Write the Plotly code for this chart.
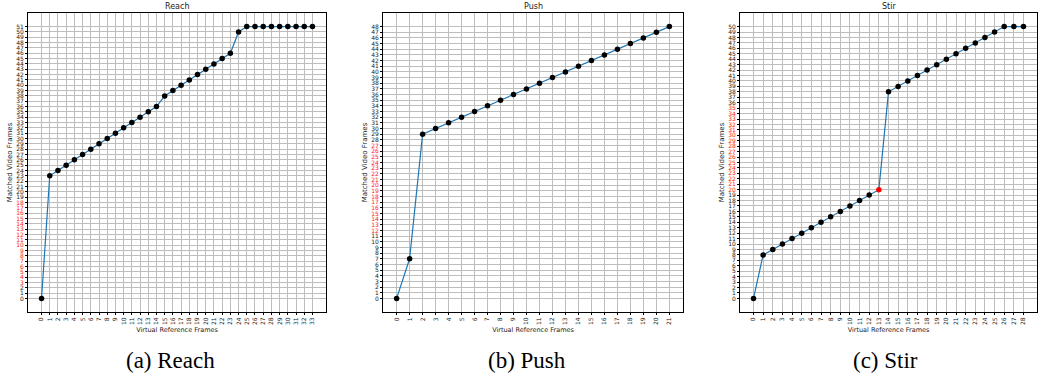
import plotly.graph_objects as go

# ---- data ----
reach_x = list(range(34))
reach_y = [0, 23, 24, 25, 26, 27, 28, 29, 30, 31, 32, 33, 34, 35, 36, 38, 39, 40, 41, 42,
           43, 44, 45, 46, 50, 51, 51, 51, 51, 51, 51, 51, 51, 51]
push_x = list(range(22))
push_y = [0, 7, 29, 30, 31, 32, 33, 34, 35, 36, 37, 38, 39, 40, 41, 42, 43, 44, 45, 46, 47, 48]
stir_x = list(range(29))
stir_y = [0, 8, 9, 10, 11, 12, 13, 14, 15, 16, 17, 18, 19, 20, 38, 39, 40, 41, 42, 43,
          44, 45, 46, 47, 48, 49, 50, 50, 50]

titles = ["Reach", "Push", "Stir"]
captions = ["(a) Reach", "(b) Push", "(c) Stir"]
red_label_ranges = [(3, 18), (12, 27), (20, 35)]   # y tick labels drawn in red
red_points = [[], [], [13]]                          # x indices of red markers

panels = [(reach_x, reach_y), (push_x, push_y), (stir_x, stir_y)]

W, H = 1039, 379
x_domains_px = [(28, 326), (383, 683), (740, 1037)]
caption_offsets = [-6, -6, -3]
y_top_px, y_bot_px = 13, 312

fig = go.Figure()
annotations = []

for i, ((xs, ys), title, cap, (r0, r1), rp) in enumerate(
        zip(panels, titles, captions, red_label_ranges, red_points)):
    n = i + 1
    xa = "x" if n == 1 else f"x{n}"
    ya = "y" if n == 1 else f"y{n}"
    mcol = ["red" if x in rp else "black" for x in xs]
    fig.add_trace(go.Scatter(
        x=xs, y=ys, mode="lines+markers",
        line=dict(color="#1f77b4", width=1.2),
        marker=dict(color=mcol, size=5.5, line=dict(width=0)),
        xaxis=xa, yaxis=ya, showlegend=False))

    xmax, ymax = max(xs), max(ys)
    xpad, ypad = 0.05 * xmax, 0.05 * ymax
    yticks = list(range(0, ymax + 1))
    ytext = [f'<span style="color:#ff2020">{v}</span>' if r0 <= v <= r1 else str(v)
             for v in yticks]

    d0, d1 = x_domains_px[i]
    xdom = [d0 / W, d1 / W]
    ydom = [1 - y_bot_px / H, 1 - y_top_px / H]

    axis_common = dict(showline=True, mirror=True, linecolor="black", linewidth=1,
                       showgrid=True, gridcolor="#bdbdbd", gridwidth=1,
                       ticks="outside", ticklen=2, tickcolor="black", tickwidth=0.8,
                       zeroline=False, automargin=False,
                       tickfont=dict(family="DejaVu Sans", size=6, color="#222"))
    fig.layout[f"xaxis{'' if n == 1 else n}"] = dict(
        domain=xdom, anchor=ya, range=[-xpad, xmax + xpad],
        tickmode="array", tickvals=xs, ticktext=[str(v) for v in xs], tickangle=-90,
        title=dict(text="Virtual Reference Frames", standoff=3,
                   font=dict(family="DejaVu Sans", size=6.5, color="#222")),
        **axis_common)
    fig.layout[f"yaxis{'' if n == 1 else n}"] = dict(
        domain=ydom, anchor=xa, range=[-ypad, ymax + ypad],
        tickmode="array", tickvals=yticks, ticktext=ytext,
        title=dict(text="Matched Video Frames", standoff=2,
                   font=dict(family="DejaVu Sans", size=7, color="#222")),
        **axis_common)

    cx = (d0 + d1) / 2 / W
    annotations.append(dict(text=title, x=cx, y=1 - 6 / H, xref="paper", yref="paper",
                            showarrow=False, xanchor="center", yanchor="middle",
                            font=dict(family="DejaVu Sans", size=8, color="#222")))
    annotations.append(dict(text=cap, x=cx + caption_offsets[i] / W,
                            y=1 - 360 / H, xref="paper", yref="paper",
                            showarrow=False, xanchor="center", yanchor="middle",
                            font=dict(family="Liberation Serif", size=23, color="black")))

fig.update_layout(width=W, height=H, margin=dict(l=0, r=0, t=0, b=0, autoexpand=False),
                  paper_bgcolor="white", plot_bgcolor="white",
                  annotations=annotations)

fig.write_html("out.html", config={"displayModeBar": False},
               post_script="document.body.style.margin='0';document.body.style.overflow='hidden';")
